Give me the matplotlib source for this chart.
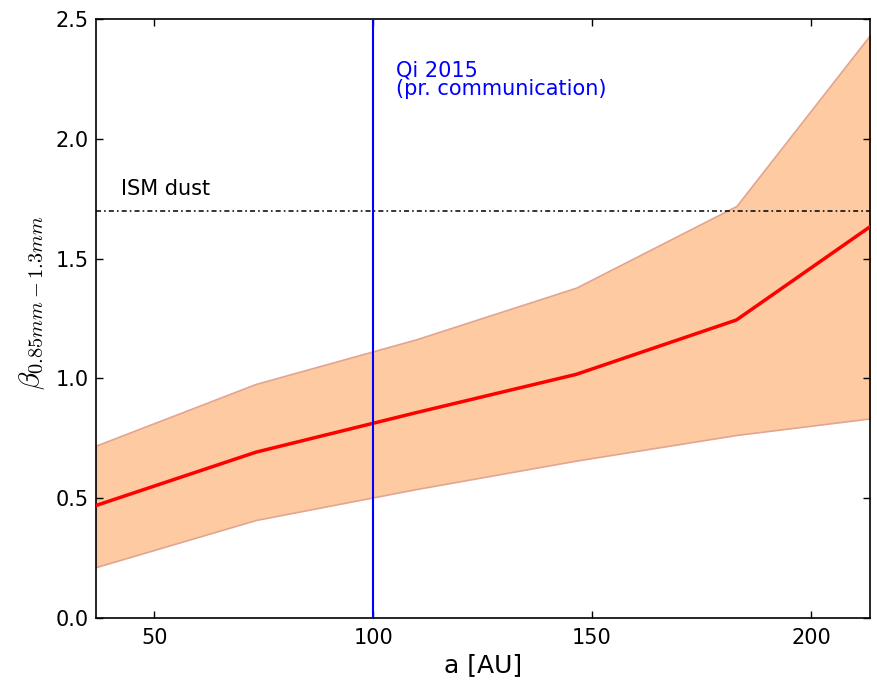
import matplotlib
matplotlib.use("Agg")
import matplotlib.pyplot as plt

# radial grid in AU and the spectral index profile with its band
radius = [36.6, 73.2, 109.8, 146.4, 183.0, 213.5]
beta_mid = [0.469, 0.692, 0.857, 1.017, 1.244, 1.633]
beta_low = [0.212, 0.409, 0.538, 0.657, 0.764, 0.833]
beta_high = [0.719, 0.977, 1.163, 1.379, 1.720, 2.433]

beta_ism = 1.7
qi_radius = 100

plt.rcParams["mathtext.fontset"] = "cm"

fig, ax = plt.subplots(figsize=(8.78, 6.82), dpi=100)
fig.subplots_adjust(left=0.1088, right=0.9909, top=0.9721, bottom=0.0938)

# uncertainty band and best fit
ax.fill_between(radius, beta_low, beta_high, facecolor="#fdcaa1",
                edgecolor="#e2a591", linewidth=1.2, zorder=1)
ax.plot(radius, beta_mid, color="red", linewidth=2.5, zorder=3)

# ISM reference value
ax.axhline(beta_ism, color="black", linestyle=(0, (3.3, 2.0, 1.1, 2.0)),
           linewidth=1.1, zorder=2)
ax.text(42.5, 1.75, "ISM dust", fontsize=15, va="bottom", ha="left")

# radius from Qi 2015
ax.axvline(qi_radius, color="blue", linewidth=1.5, zorder=4)
ax.text(105.3, 2.325, "Qi 2015\n(pr. communication)", color="blue",
        fontsize=15, va="top", ha="left", linespacing=0.85)

ax.set_xlim(36.6, 213.5)
ax.set_ylim(0, 2.5)
ax.set_xticks([50, 100, 150, 200])
ax.set_yticks([0.0, 0.5, 1.0, 1.5, 2.0, 2.5])
ax.set_yticklabels(["0.0", "0.5", "1.0", "1.5", "2.0", "2.5"])

ax.tick_params(direction="in", top=True, right=True, length=5, width=1,
               labelsize=15)
ax.tick_params(axis="x", pad=7)
ax.tick_params(axis="y", pad=5)
for spine in ax.spines.values():
    spine.set_linewidth(1.2)

ax.set_xlabel("a [AU]", fontsize=18)
ax.set_ylabel(r"$\beta_{0.85mm-1.3mm}$", fontsize=21)
ax.yaxis.set_label_coords(-0.063, 0.526)

fig.savefig("out.png", dpi=100)
